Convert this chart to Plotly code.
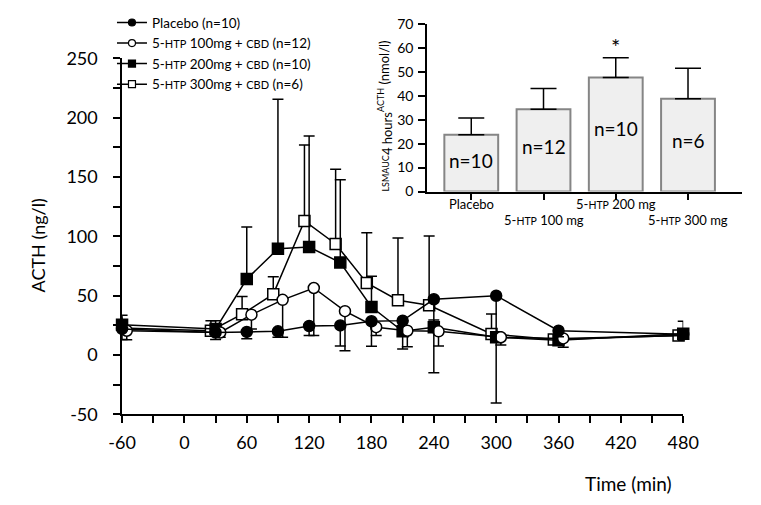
import plotly.graph_objects as go

# ---- time course data: ACTH (ng/l) ----
time_min = [-60, 30, 60, 90, 120, 150, 180, 210, 240, 300, 360, 480]

placebo = [22, 19, 19.5, 20, 24.5, 25, 28.5, 29, 47, 50, 20.5, 17.5]
placebo_err_lo = [9, 6, 5.7, 5, 8, 17.4, 21, 24, 62, 90.4, 5, 5]

htp100 = [20.5, 19, 34, 46.5, 56.5, 37, 23.5, 20.5, 20, 15, 14, 16.5]
htp100_err_lo = [7.6, 4, 12, 31.5, 40, 33.4, 7, 13.5, 12.4, 6.6, 7.5, 3]

htp200 = [25.5, 22, 64, 89.5, 91, 78, 40.5, 20, 23.5, 15, 12.5, 18]
htp200_err_hi = [8, 7, 44, 126, 93.5, 69.7, 26, 5, 6, 3, 3, 10.5]

htp300 = [23, 20.5, 34.4, 51.3, 113, 93.6, 60.7, 46.2, 41.9, 17.8, 13, 16.5]
htp300_err_hi = [8, 8.5, 15, 14.7, 64, 63, 42.3, 52.5, 58.4, 16.8, 3, 3]

# ---- inset: LSMAUC 4 hours ACTH (nmol/l) ----
groups = ["Placebo", "5-HTP 100 mg", "5-HTP 200 mg", "5-HTP 300 mg"]
auc = [23.7, 34.3, 47.6, 38.7]
auc_err = [7.0, 8.7, 8.2, 12.7]
group_n = [10, 12, 10, 6]
significant = [False, False, True, False]

# axis ticks (labels keep a plain hyphen for negatives)
x_major = list(range(-60, 481, 60))
x_minor = list(range(-30, 481, 60))
y_major = list(range(-50, 251, 50))
y_minor = list(range(-25, 251, 50))

FONT = "Lato"
W, H = 761, 505


def sc(s, size):
    """small-caps style text"""
    return f"<span style='font-size:{size}px'>{s}</span>"


DODGE = 4.5  # minutes of horizontal offset for overlapping groups

fig = go.Figure()

series = [
    dict(name=f"5-{sc('HTP', 11)} 300mg + {sc('CBD', 11)} (n=6)", y=htp300,
         hi=htp300_err_hi, lo=None, symbol="square", filled=False, dx=-DODGE),
    dict(name=f"5-{sc('HTP', 11)} 200mg + {sc('CBD', 11)} (n=10)", y=htp200,
         hi=htp200_err_hi, lo=None, symbol="square", filled=True, dx=0),
    dict(name=f"5-{sc('HTP', 11)} 100mg + {sc('CBD', 11)} (n=12)", y=htp100,
         hi=None, lo=htp100_err_lo, symbol="circle", filled=False, dx=DODGE),
    dict(name="Placebo (n=10)", y=placebo,
         hi=None, lo=placebo_err_lo, symbol="circle", filled=True, dx=0),
]

for rank, s in enumerate(series):
    n = len(time_min)
    hi = s["hi"] if s["hi"] is not None else [0] * n
    lo = s["lo"] if s["lo"] is not None else [0] * n
    marker_color = "black" if s["filled"] else "white"
    fig.add_trace(go.Scatter(
        x=[t + s["dx"] for t in time_min], y=s["y"],
        name=s["name"], mode="lines+markers", showlegend=False,
        line=dict(color="black", width=1.5),
        marker=dict(symbol=s["symbol"], size=11, color=marker_color,
                    line=dict(color="black", width=1.5)),
        error_y=dict(type="data", symmetric=False, array=hi, arrayminus=lo,
                     color="black", thickness=1.5, width=5.5),
        cliponaxis=False, xaxis="x", yaxis="y",
    ))
    # legend entry with a compact symbol
    fig.add_trace(go.Scatter(
        x=[None], y=[None], name=s["name"], mode="lines+markers",
        legendrank=4 - rank, line=dict(color="black", width=1.5),
        marker=dict(symbol=s["symbol"], size=7, color=marker_color,
                    line=dict(color="black", width=1.2)),
        xaxis="x", yaxis="y",
    ))

# inset bars
fig.add_trace(go.Bar(
    x=list(range(len(groups))), y=auc, width=0.745,
    marker=dict(color="#efefef", line=dict(color="#858585", width=2)),
    error_y=dict(type="data", symmetric=False, array=auc_err,
                 arrayminus=[0] * len(auc), color="black", thickness=1.5, width=13),
    xaxis="x2", yaxis="y2", showlegend=False,
))

annotations = []
for i, (g, v, e, n_, sig) in enumerate(zip(groups, auc, auc_err, group_n, significant)):
    annotations.append(dict(x=i, y=v * 0.55, xref="x2", yref="y2", text=f"n={n_}",
                            showarrow=False, xanchor="center", yanchor="middle",
                            font=dict(family=FONT, size=19, color="black")))
    if sig:
        annotations.append(dict(x=i, y=v + e, xref="x2", yref="y2", text="*",
                                showarrow=False, xanchor="center", yanchor="bottom",
                                yshift=-4, font=dict(family=FONT, size=22, color="black")))
    label = g.replace("HTP", sc("HTP", 10.5))
    annotations.append(dict(x=i, y=0, xref="x2", yref="y2", text=label, showarrow=False,
                            xanchor="center", yanchor="middle",
                            yshift=-12 if i % 2 == 0 else -28.5,
                            font=dict(family=FONT, size=13, color="black")))

# axis titles
annotations += [
    dict(x=25 / W, y=1 - 244 / H, xref="paper", yref="paper", text="ACTH (ng/l)",
         textangle=-90, showarrow=False, xanchor="center", yanchor="middle",
         font=dict(family=FONT, size=18, color="black")),
    dict(x=640 / W, y=1 - 493 / H, xref="paper", yref="paper", text="Time (min)",
         showarrow=False, xanchor="center", yanchor="middle",
         font=dict(family=FONT, size=19, color="black")),
    dict(x=386 / W, y=1 - 108.5 / H, xref="paper", yref="paper",
         text="<span style='font-size:9px'>LSMAUC</span>"
              "<sub><span style='font-size:13px'>4 hours</span></sub>"
              "<sup><span style='font-size:9px'>ACTH</span></sup>"
              " <span style='font-size:13px'>(nmol/l)</span>",
         textangle=-90, showarrow=False, xanchor="center", yanchor="middle",
         font=dict(family=FONT, size=13, color="black")),
]

axis_common = dict(showline=True, linecolor="black", linewidth=1.5, ticks="outside",
                   tickcolor="black", tickwidth=1.5, ticklen=7, showgrid=False,
                   zeroline=False)
minor_common = dict(ticks="outside", ticklen=7, tickwidth=1.5, tickcolor="black",
                    showgrid=False)

fig.update_layout(
    width=W, height=H, margin=dict(l=0, r=0, t=0, b=0),
    paper_bgcolor="white", plot_bgcolor="white",
    font=dict(family=FONT, color="black"),
    xaxis=dict(domain=[112.5 / W, 696.7 / W], range=[-60, 480], tickmode="array",
               tickvals=x_major, ticktext=[str(v) for v in x_major],
               minor=dict(tickmode="array", tickvals=x_minor, **minor_common),
               anchor="y", ticklabelstandoff=4,
               tickfont=dict(family=FONT, size=18, color="black"), **axis_common),
    yaxis=dict(domain=[1 - 420.7 / H, 1 - 48.5 / H], range=[-50, 250], tickmode="array",
               tickvals=y_major, ticktext=[str(v) for v in y_major],
               minor=dict(tickmode="array", tickvals=y_minor, **minor_common),
               anchor="x", ticklabelstandoff=12,
               tickfont=dict(family=FONT, size=18, color="black"), **axis_common),
    xaxis2=dict(domain=[430 / W, 758 / W], range=[-0.612, 3.749], tickmode="array",
                tickvals=list(range(len(groups))), showticklabels=False,
                anchor="y2", **axis_common),
    yaxis2=dict(domain=[1 - 187.7 / H, 1 - 12.3 / H], range=[0, 70], dtick=10,
                anchor="x2", ticklabelstandoff=2,
                tickfont=dict(family=FONT, size=14, color="black"), **axis_common),
    legend=dict(x=102 / W, y=1 + 5 / H, xanchor="left", yanchor="top",
                bgcolor="rgba(0,0,0,0)", font=dict(family=FONT, size=13.5, color="black"),
                tracegroupgap=0, itemwidth=30),
    showlegend=True,
    annotations=annotations,
)

fig.write_html("out.html")
